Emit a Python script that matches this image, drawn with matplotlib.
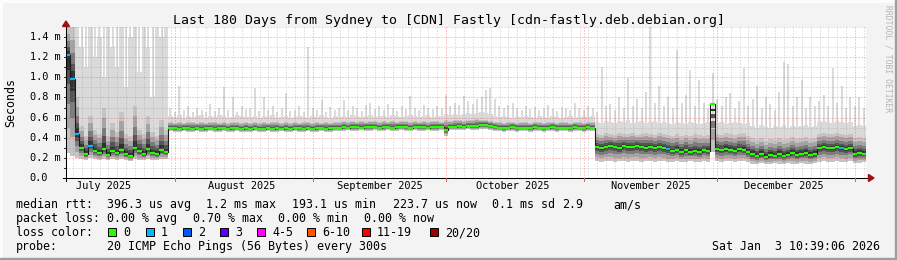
import numpy as np
import matplotlib
matplotlib.use("Agg")
import matplotlib.pyplot as plt
import matplotlib.dates as mdates
import matplotlib.transforms as mtransforms
from matplotlib.patches import Polygon, Rectangle
from matplotlib.lines import Line2D
from datetime import datetime, timedelta

# ---------------- data (milliseconds, one value per day from 2025-07-07 10:39) ----------------
start_time = datetime(2025, 7, 7, 10, 39, 6)
n_days = 180

median_rtt = [
    1.22, 0.98, 0.44, 0.30, 0.24, 0.32, 0.27, 0.25, 0.29, 0.23,
    0.27, 0.25, 0.28, 0.24, 0.22, 0.30, 0.27, 0.24, 0.29, 0.25,
    0.24, 0.28, 0.26,
    0.50, 0.50, 0.49, 0.50, 0.50, 0.49, 0.50, 0.49, 0.50, 0.50, 0.49, 0.50, 0.50, 0.49, 0.50, 0.50, 0.49, 0.50,
    0.49, 0.50, 0.49, 0.49, 0.50, 0.49, 0.50, 0.49, 0.50, 0.49, 0.50, 0.50, 0.49, 0.50, 0.49, 0.50, 0.50, 0.49, 0.50, 0.50,
    0.50, 0.51, 0.50, 0.51, 0.51, 0.50, 0.51, 0.51, 0.51, 0.50, 0.51, 0.51, 0.50, 0.51, 0.51, 0.51, 0.50, 0.51, 0.51, 0.51, 0.50, 0.51, 0.51, 0.51,
    0.48,
    0.51, 0.51, 0.52, 0.51, 0.52, 0.52, 0.52, 0.53, 0.53, 0.52,
    0.51, 0.50, 0.50, 0.50, 0.51, 0.50, 0.50, 0.50, 0.50, 0.51, 0.50, 0.50, 0.50, 0.51, 0.50, 0.50, 0.50, 0.50, 0.51, 0.50, 0.50, 0.51, 0.50,
    0.31, 0.30, 0.31, 0.32, 0.31, 0.30, 0.32, 0.31, 0.31, 0.32, 0.31, 0.30, 0.31, 0.30, 0.31, 0.30,
    0.29, 0.27, 0.28, 0.26, 0.28, 0.26, 0.27, 0.26, 0.28, 0.27,
    0.74,
    0.29, 0.28, 0.29, 0.28, 0.27, 0.29, 0.28, 0.26,
    0.24, 0.22, 0.24, 0.21, 0.23, 0.22, 0.24, 0.22, 0.23, 0.25, 0.23, 0.24, 0.25, 0.23, 0.24,
    0.30, 0.31, 0.30, 0.30, 0.31, 0.30, 0.29, 0.30,
    0.24, 0.25, 0.24,
]

min_rtt = [
    0.25, 0.22, 0.20, 0.19, 0.18, 0.20, 0.19, 0.18, 0.19, 0.18,
    0.19, 0.18, 0.19, 0.18, 0.17, 0.19, 0.18, 0.18, 0.19, 0.18,
    0.18, 0.19, 0.19,
    0.47, 0.46, 0.46, 0.47, 0.46, 0.46, 0.47, 0.46, 0.46, 0.47, 0.46, 0.46, 0.47, 0.46, 0.46, 0.47, 0.46, 0.46,
    0.46, 0.47, 0.46, 0.46, 0.47, 0.46, 0.46, 0.47, 0.46, 0.46, 0.47, 0.46, 0.46, 0.47, 0.46, 0.46, 0.47, 0.46, 0.46, 0.47,
    0.47, 0.47, 0.48, 0.47, 0.47, 0.48, 0.47, 0.47, 0.48, 0.47, 0.47, 0.48, 0.47, 0.47, 0.48, 0.47, 0.47, 0.48, 0.47, 0.47, 0.48, 0.47, 0.47, 0.48,
    0.42,
    0.48, 0.48, 0.48, 0.48, 0.49, 0.48, 0.48, 0.49, 0.49, 0.48,
    0.47, 0.47, 0.46, 0.47, 0.47, 0.46, 0.47, 0.47, 0.46, 0.47, 0.47, 0.46, 0.47, 0.47, 0.46, 0.47, 0.47, 0.46, 0.47, 0.47, 0.46, 0.47, 0.47,
    0.17, 0.16, 0.17, 0.17, 0.16, 0.17, 0.17, 0.16, 0.17, 0.17, 0.16, 0.17, 0.17, 0.16, 0.17, 0.17,
    0.16, 0.16, 0.17, 0.16, 0.16, 0.17, 0.16, 0.16, 0.17, 0.16,
    0.26,
    0.17, 0.16, 0.17, 0.17, 0.16, 0.17, 0.17, 0.16,
    0.14, 0.14, 0.15, 0.14, 0.14, 0.15, 0.14, 0.14, 0.15, 0.14, 0.14, 0.15, 0.14, 0.14, 0.15,
    0.16, 0.17, 0.16, 0.16, 0.17, 0.16, 0.16, 0.17,
    0.15, 0.15, 0.16,
]

dense_upper = [
    1.50, 1.50, 0.80, 0.52, 0.42, 0.62, 0.48, 0.44, 0.70, 0.42,
    0.55, 0.46, 0.66, 0.44, 0.42, 0.72, 0.48, 0.44, 0.62, 0.46,
    0.42, 0.58, 0.48,
    0.56, 0.55, 0.56, 0.55, 0.56, 0.56, 0.55, 0.56, 0.55, 0.56, 0.56, 0.55, 0.56, 0.55, 0.56, 0.56, 0.55, 0.56,
    0.55, 0.56, 0.55, 0.56, 0.55, 0.56, 0.56, 0.55, 0.56, 0.55, 0.56, 0.55, 0.56, 0.56, 0.55, 0.56, 0.55, 0.56, 0.55, 0.56,
    0.56, 0.57, 0.56, 0.57, 0.56, 0.57, 0.56, 0.57, 0.57, 0.56, 0.57, 0.56, 0.57, 0.56, 0.57, 0.57, 0.56, 0.57, 0.56, 0.57, 0.56, 0.57, 0.57, 0.56,
    0.58,
    0.57, 0.58, 0.58, 0.57, 0.58, 0.58, 0.59, 0.58, 0.58, 0.57,
    0.56, 0.56, 0.55, 0.56, 0.56, 0.55, 0.56, 0.56, 0.55, 0.56, 0.56, 0.55, 0.56, 0.56, 0.55, 0.56, 0.56, 0.55, 0.56, 0.56, 0.55, 0.56, 0.56,
    0.44, 0.43, 0.45, 0.44, 0.43, 0.45, 0.44, 0.44, 0.45, 0.43, 0.44, 0.45, 0.44, 0.43, 0.45, 0.44,
    0.43, 0.42, 0.44, 0.42, 0.43, 0.42, 0.44, 0.43, 0.42, 0.43,
    0.40,
    0.44, 0.43, 0.45, 0.44, 0.43, 0.44, 0.45, 0.42,
    0.40, 0.38, 0.40, 0.37, 0.39, 0.38, 0.40, 0.38, 0.39, 0.41, 0.39, 0.40, 0.41, 0.39, 0.40,
    0.44, 0.45, 0.44, 0.44, 0.45, 0.44, 0.43, 0.44,
    0.40, 0.41, 0.40,
]

light_upper = [
    1.50, 1.50, 1.50, 1.30, 1.10, 1.50, 1.20, 1.40, 1.00, 1.50,
    1.30, 1.10, 1.50, 0.90, 1.40, 1.50, 1.05, 1.50, 1.30, 0.80,
    1.50, 1.40, 1.50,
    0.62, 0.61, 0.63, 0.60, 0.62, 0.61, 0.62, 0.63, 0.60, 0.62, 0.61, 0.63, 0.62, 0.60, 0.61, 0.63, 0.62, 0.61,
    0.61, 0.62, 0.60, 0.62, 0.61, 0.63, 0.60, 0.61, 0.62, 0.60, 0.61, 0.62, 0.61, 0.60, 0.62, 0.61, 0.63, 0.61, 0.60, 0.62,
    0.61, 0.62, 0.61, 0.63, 0.62, 0.61, 0.62, 0.63, 0.61, 0.62, 0.62, 0.61, 0.63, 0.62, 0.61, 0.62, 0.63, 0.62, 0.61, 0.62, 0.63, 0.61, 0.62, 0.62,
    0.64,
    0.63, 0.64, 0.63, 0.64, 0.65, 0.64, 0.65, 0.66, 0.65, 0.64,
    0.62, 0.61, 0.62, 0.61, 0.60, 0.62, 0.61, 0.62, 0.61, 0.60, 0.62, 0.61, 0.60, 0.62, 0.61, 0.60, 0.61, 0.62, 0.60, 0.61, 0.62, 0.61, 0.62,
    0.56, 0.55, 0.57, 0.56, 0.55, 0.57, 0.56, 0.58, 0.55, 0.56, 0.57, 0.55, 0.56, 0.57, 0.55, 0.56,
    0.55, 0.54, 0.56, 0.55, 0.54, 0.56, 0.55, 0.54, 0.55, 0.56,
    0.55,
    0.55, 0.56, 0.54, 0.55, 0.56, 0.55, 0.54, 0.55,
    0.52, 0.50, 0.53, 0.51, 0.50, 0.52, 0.51, 0.53, 0.50, 0.52, 0.51, 0.52, 0.53, 0.51, 0.52,
    0.56, 0.57, 0.56, 0.55, 0.57, 0.56, 0.55, 0.56,
    0.52, 0.53, 0.52,
]

max_rtt = [
    1.50, 1.50, 1.50, 1.50, 1.50, 1.50, 1.50, 1.50, 1.50, 1.50,
    1.50, 1.50, 1.50, 1.50, 1.50, 1.50, 1.50, 1.50, 1.50, 1.50,
    1.50, 1.50, 1.50,
    0.70, 0.66, 0.91, 0.68, 0.72, 0.66, 0.70, 0.68, 0.66, 0.74, 0.67, 0.70, 0.90, 0.68, 0.80, 0.66, 0.72, 0.69,
    0.70, 0.89, 0.67, 0.80, 0.68, 0.72, 0.66, 0.70, 0.84, 0.67, 0.68, 0.72, 0.66, 1.30, 0.70, 0.68, 0.77, 0.66, 0.71, 0.68,
    0.70, 0.77, 0.68, 0.72, 0.70, 0.67, 0.73, 0.75, 0.69, 0.72, 0.68, 0.74, 0.70, 0.67, 0.72, 0.69, 0.81, 0.70, 0.68, 0.73, 0.70, 0.69, 0.72, 0.70,
    0.82,
    0.72, 0.75, 0.73, 0.81, 0.76, 0.74, 0.78, 0.80, 0.87, 0.89,
    0.78, 0.72, 0.70, 0.73, 0.75, 0.70, 0.68, 0.72, 0.69, 0.71, 0.68, 0.70, 0.73, 0.69, 0.67, 0.71, 0.70, 0.68, 0.75, 0.70, 0.68, 0.72, 0.70,
    0.66, 1.10, 0.72, 0.74, 0.68, 0.80, 0.70, 0.99, 0.72, 0.78, 0.70, 0.85, 1.50, 0.75, 0.91, 0.72,
    0.80, 0.70, 1.27, 0.75, 0.82, 1.07, 0.72, 0.97, 0.75, 0.70,
    1.04,
    0.78, 0.72, 0.80, 0.84, 0.70, 0.76, 1.09, 0.72,
    0.78, 0.91, 0.70, 0.80, 0.74, 0.68, 0.85, 1.15, 1.13, 0.72, 0.80, 0.97, 0.70, 0.80, 0.72,
    0.76, 0.82, 0.72, 1.09, 0.75, 0.91, 0.70, 0.80,
    0.72, 0.80, 0.70,
]

loss_days = [0, 1, 2, 5, 135, 174]
loss_counts = [1, 1, 1, 1, 1, 1]

legend_labels = ["0", "1", "2", "3", "4-5", "6-10", "11-19", "20/20"]
legend_colors = ["#26ff00", "#00b8ff", "#0059ff", "#5e00ff", "#ff00ff", "#ff5500", "#ff0000", "#a10000"]

y_ticks = [0.0, 0.2, 0.4, 0.6, 0.8, 1.0, 1.2, 1.4]
y_labels = ["0.0", "0.2 m", "0.4 m", "0.6 m", "0.8 m", "1.0 m", "1.2 m", "1.4 m"]
month_labels = ["July 2025", "August 2025", "September 2025", "October 2025", "November 2025", "December 2025"]
month_label_dates = [datetime(2025, 7, 16), datetime(2025, 8, 16), datetime(2025, 9, 16),
                     datetime(2025, 10, 16), datetime(2025, 11, 16), datetime(2025, 12, 16)]
month_starts = [datetime(2025, 8, 1), datetime(2025, 9, 1), datetime(2025, 10, 1),
                datetime(2025, 11, 1), datetime(2025, 12, 1), datetime(2026, 1, 1)]

title = "Last 180 Days from Sydney to [CDN] Fastly [cdn-fastly.deb.debian.org]"

# ---------------- figure ----------------
W, H = 897, 260
FONT = "DejaVu Sans Mono"
fig = plt.figure(figsize=(W / 100, H / 100), dpi=100, facecolor="#f3f3f3")


def fx(x):
    return x / W


def fy(y):
    return 1 - y / H


L, R, T, B = 66, 866, 27, 178
ax = fig.add_axes([fx(L), fy(B), (R - L) / W, (B - T) / H])
ax.set_facecolor("white")
for s in ax.spines.values():
    s.set_visible(False)
ax.set_xticks([])
ax.set_yticks([])

d0 = mdates.date2num(start_time)
d1 = mdates.date2num(start_time + timedelta(days=n_days))
ax.set_xlim(d0, d1)
ax.set_ylim(0, 1.5)

med = np.array(median_rtt)
lo = np.array(min_rtt)
hi = np.array(dense_upper)
band = np.array(light_upper)
mx = np.array(max_rtt)
N = len(med)
edges = d0 + np.arange(N + 1)
mids = d0 + np.arange(N) + 0.5


def ext(a):
    return np.append(a, a[-1])


def fill(lower, upper, color, z):
    ax.fill_between(edges, ext(lower), ext(upper), step="post", color=color, lw=0, zorder=z)


# smoke
fill(lo, band, "#dadada", 1)
ax.vlines(mids, band, mx, color="#dadada", lw=1.4, zorder=1)
shades = [(1.0, "#c4c4c4"), (0.75, "#a4a4a4"), (0.5, "#7c7c7c"), (0.3, "#545454"), (0.15, "#303030")]
for k, c in shades:
    fill(med - k * (med - lo), med + k * (hi - med), c, 2)

# grid on top (semi-transparent like rrdtool)
minor_col = (0.55, 0.55, 0.55, 0.45)
major_col = (1.0, 0.15, 0.15, 0.5)
dots = (0, (1, 2))
for v in np.arange(0.1, 1.55, 0.1):
    if abs(round(v * 10) % 2) == 1:
        ax.axhline(v, color=minor_col, lw=0.72, ls=dots, zorder=7)
for v in y_ticks[1:]:
    ax.axhline(v, color=major_col, lw=0.72, ls=dots, zorder=7)
month_nums = [mdates.date2num(m) for m in month_starts]
for day in range(int(np.ceil(d0)), int(d1) + 1):
    if day % 2 == 0 and all(abs(day - m) > 0.3 for m in month_nums):
        ax.axvline(day, color=minor_col, lw=0.72, ls=dots, zorder=7)
for m in month_nums:
    ax.axvline(m, color=major_col, lw=0.72, ls=dots, zorder=7)

# median line
loss = np.zeros(N, dtype=int)
for dd, lc in zip(loss_days, loss_counts):
    loss[dd] = lc
col_map = {0: legend_colors[0], 1: legend_colors[1], 2: legend_colors[2], 3: legend_colors[3]}
ax.step(edges, ext(med), where="post", color="#1a1a1a", lw=0.8, zorder=5)
ax.hlines(med, edges[:-1], edges[1:], colors=[col_map[l] for l in loss], lw=1.6, zorder=6)

# ---------------- axes lines & arrows (figure pixels) ----------------
def fline(x0, y0, x1, y1, color, lw=0.75, z=10):
    fig.add_artist(Line2D([fx(x0), fx(x1)], [fy(y0), fy(y1)], color=color, lw=lw,
                          transform=fig.transFigure, zorder=z))


fline(62.5, 178, 869, 178, "black")
fline(66, 181, 66, 24, "black")
fig.add_artist(Polygon([(fx(62.5), fy(26.5)), (fx(69.5), fy(26.5)), (fx(66), fy(21))],
                       closed=True, color="#a01010", transform=fig.transFigure, zorder=11))
fig.add_artist(Polygon([(fx(868.5), fy(174.5)), (fx(868.5), fy(181.5)), (fx(874), fy(178))],
                       closed=True, color="#a01010", transform=fig.transFigure, zorder=11))
for m in month_nums:
    xp = L + (m - d0) / (d1 - d0) * (R - L)
    fline(xp, 178, xp, 181, "#e06060", lw=0.72)
for v in np.arange(0.0, 1.45, 0.1):
    yp = B - v / 1.5 * (B - T)
    fline(63.5, yp, 66, yp, "black", lw=0.6)

# ---------------- text ----------------
fig.text(0.5, fy(24), title, ha="center", va="baseline", fontsize=9.55, family=FONT, color="black")
fig.text(fx(11), (fy(B) + fy(T)) / 2, "Seconds", rotation=90, ha="center", va="center",
         fontsize=8.4, family=FONT)
ytrans = mtransforms.blended_transform_factory(fig.transFigure, ax.transData)
for v, lab in zip(y_ticks, y_labels):
    ax.text(fx(29.5), v, lab, transform=ytrans, ha="left", va="center", fontsize=7.35, family=FONT,
            clip_on=False)
xtrans = mtransforms.blended_transform_factory(ax.transData, fig.transFigure)
for d, lab in zip(month_label_dates, month_labels):
    ax.text(mdates.date2num(d), fy(189), lab, transform=xtrans, ha="center", va="baseline",
            fontsize=7.35, family=FONT, clip_on=False)

fig.text(fx(888), fy(5), "RRDTOOL / TOBI OETIKER", rotation=270, ha="center", va="top",
         fontsize=5.8, family=FONT, color="#b4b4b4")


def t(x, y, s, **kw):
    fig.text(fx(x), fy(y), s, ha=kw.pop("ha", "left"), va="baseline", fontsize=8.4, family=FONT, **kw)


t(16, 208, "median rtt:")
t(106.5, 208, "396.3 us avg")
t(206, 208, "1.2 ms max")
t(292, 208, "193.1 us min")
t(392.5, 208, "223.7 us now")
t(492, 208, "0.1 ms sd")
t(562, 208, "2.9")
t(613, 208, "am/s")

t(16, 222, "packet loss:")
t(107, 222, "0.00 % avg")
t(192.5, 222, "0.70 % max")
t(277.5, 222, "0.00 % min")
t(364, 222, "0.00 % now")

t(16, 236, "loss color:")
sq_x = [108, 146, 183, 220, 257, 307, 362, 430]
for xs, lab, c in zip(sq_x, legend_labels, legend_colors):
    fig.add_artist(Rectangle((fx(xs), fy(236)), 8 / W, 8 / H, facecolor=c, edgecolor="black",
                             lw=0.7, transform=fig.transFigure))
    t(xs + 15, 236, lab)

t(16, 250, "probe:")
t(107, 250, "20 ICMP Echo Pings (56 Bytes) every 300s")
t(880, 250, "Sat Jan  3 10:39:06 2026", ha="right")

# frame (3D look)
fig.add_artist(Rectangle((0, 1 - 2 / H), 1, 2 / H, color="#fcfcfc", transform=fig.transFigure, zorder=20))
fig.add_artist(Rectangle((0, 0), 2 / W, 1, color="#fcfcfc", transform=fig.transFigure, zorder=20))
fig.add_artist(Rectangle((0, 0), 1, 2 / H, color="#9e9e9e", transform=fig.transFigure, zorder=21))
fig.add_artist(Rectangle((1 - 2 / W, 0), 2 / W, 1, color="#9e9e9e", transform=fig.transFigure, zorder=21))

fig.savefig("out.png", dpi=100, facecolor=fig.get_facecolor())
